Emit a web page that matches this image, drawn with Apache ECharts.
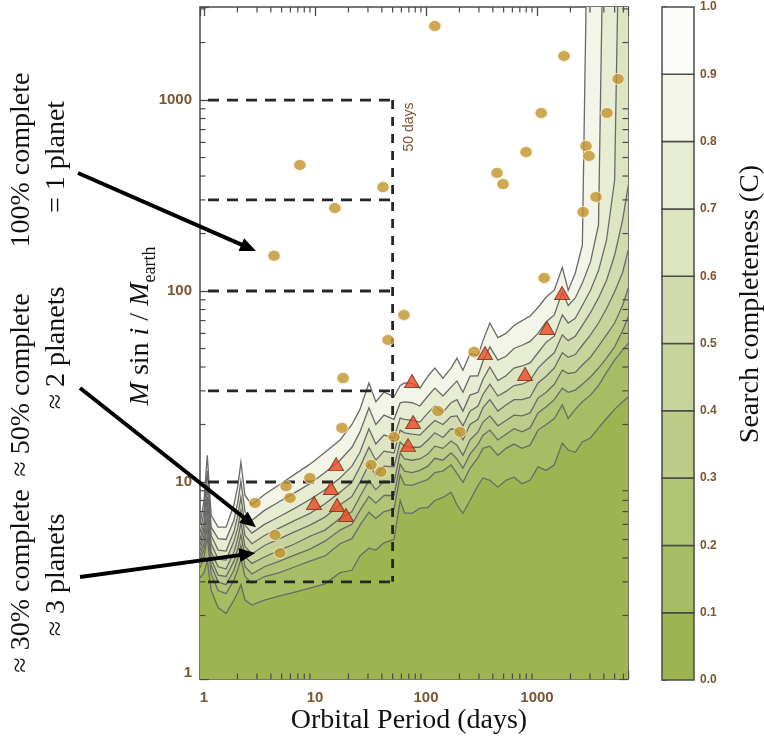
<!DOCTYPE html>
<html>
<head>
<meta charset="utf-8">
<script src="https://cdn.jsdelivr.net/npm/echarts@6/dist/echarts.min.js"></script>
<style>
  html, body { margin: 0; padding: 0; background: #ffffff; }
  #chart { width: 764px; height: 745px; }
</style>
</head>
<body>
<div id="chart"></div>
<script>
// ---- Axis extents (orbital period in days, M sin i in Earth masses) ----
const periodRange = [0.92, 6600];
const massRange = [0.93, 3070];
const minorTicks = [2, 3, 4, 5, 6, 7, 8, 9, 20, 30, 40, 50, 60, 70, 80, 90,
  200, 300, 400, 500, 600, 700, 800, 900, 2000, 3000, 4000, 5000, 6000, 7000, 8000, 9000];

// ---- Search-completeness contours: mass along a shared period grid ----
const periodGrid = [0.92, 1.0, 1.07, 1.16, 1.34, 1.58, 1.86, 2.02, 2.15, 2.34, 2.7, 3.5, 4.8, 6.6, 9,
  12.3, 16.8, 21.5, 25.4, 30.6, 35.3, 41.8, 51.5, 58.5, 64, 75, 88, 104, 120, 142, 168, 190, 215, 249,
  294, 326, 376, 444, 525, 620, 733, 866, 1020, 1210, 1430, 1690, 1910, 2210, 2560, 3030, 3580, 4230,
  5000, 5900, 7000];
const contour90 = [5.95, 8.0, 13.8, 6.7, 5.8, 5.8, 7.6, 9.6, 12.7, 8.5, 7.6, 8.6, 9.7, 11, 12.4, 14.3,
  16.6, 20, 24, 33, 26.3, 29.5, 28, 32, 33, 32.8, 31, 35.8, 39.5, 35, 39.5, 44.5, 38.5, 47, 46, 55, 68,
  57, 60, 66, 70, 74, 82, 93, 101, 133, 101, 124, 174, 1e5, 1e5, 1e5, 1e5, 1e5, 1e5];
const contour80 = [5.4, 7.0, 11.4, 5.8, 5.05, 5.0, 6.3, 7.9, 10.1, 7.0, 6.3, 7.1, 7.9, 8.8, 9.8, 11.2,
  13, 15.2, 18.3, 24.5, 20, 22.4, 21.3, 26, 26.3, 26, 25, 28.2, 31, 28.2, 31.4, 33.8, 29.5, 35.8, 36,
  43, 51, 43.5, 45.5, 50, 52, 54.5, 60, 69, 75, 99, 84, 92, 110, 142, 222, 1e5, 1e5, 1e5, 1e5];
const contour70 = [5.0, 6.2, 9.6, 5.25, 4.4, 4.35, 5.5, 6.7, 8.3, 5.95, 5.4, 6.0, 6.6, 7.3, 8.1, 9.1,
  10.5, 12.1, 14.3, 19, 15.8, 17.6, 17, 21.6, 21.3, 21, 20.6, 23, 25, 23.2, 26, 27, 23.5, 28.5, 29.5,
  34.5, 40, 34, 36, 39.5, 40.5, 42, 47.5, 54, 58, 75, 68, 72, 84, 101, 128, 185, 380, 1e5, 1e5];
const contour60 = [4.65, 5.75, 8.4, 4.75, 3.95, 3.9, 4.9, 5.8, 7.1, 5.25, 4.75, 5.25, 5.75, 6.3, 6.85,
  7.7, 8.85, 9.95, 12, 15.2, 13, 14.5, 14.2, 18.7, 18.1, 17.8, 17.6, 19.4, 21, 20, 22, 22.2, 19.7, 23.5,
  25, 28.8, 32.5, 28.2, 29.8, 32, 32.5, 34, 39.5, 43.5, 47.5, 59, 55, 58, 66, 77, 92, 114, 154, 235, 430];
const contour50 = [4.35, 5.3, 7.4, 4.3, 3.6, 3.5, 4.3, 5.1, 6.1, 4.6, 4.2, 4.65, 5.05, 5.5, 5.95, 6.55,
  7.6, 8.4, 9.95, 12.4, 10.9, 12.1, 12, 16.2, 15.4, 15.2, 15.2, 16.6, 18.1, 17.1, 19, 18.7, 16.6, 20,
  21.3, 24.5, 27, 23.5, 25.3, 27, 27, 27.8, 33, 35.8, 39.5, 47.5, 45, 46.5, 52, 59, 68, 81, 99, 125, 185];
const contour40 = [4.1, 4.8, 6.55, 3.95, 3.25, 3.2, 3.85, 4.5, 5.3, 4.05, 3.75, 4.05, 4.4, 4.75, 5.2,
  5.6, 6.45, 7.0, 8.4, 10.2, 9.1, 10.1, 9.95, 14.2, 13.2, 13, 13.2, 14, 15.4, 15, 16.4, 15.6, 13.8, 16.6,
  18.3, 20.6, 22.2, 19.7, 21, 22.4, 22.2, 23, 27.5, 29.5, 32.5, 38.5, 37, 37.5, 41, 45, 51.5, 59, 68, 84, 114];
const contour30 = [3.85, 4.45, 5.8, 3.65, 3.0, 2.9, 3.45, 4.0, 4.65, 3.6, 3.3, 3.6, 3.85, 4.15, 4.45,
  4.9, 5.6, 6.0, 7.1, 8.4, 7.75, 8.5, 8.5, 12.4, 11.4, 11.2, 11.5, 12.1, 13.3, 13, 14.2, 13.2, 11.8, 14,
  15.8, 17.6, 18.7, 16.6, 17.8, 19, 18.3, 19.2, 23, 24.8, 27, 31, 29.5, 30.3, 32.5, 35.5, 39.5, 44.5, 51, 62, 79];
const contour20 = [3.55, 4.05, 5.15, 3.3, 2.7, 2.6, 3.07, 3.5, 3.95, 3.2, 2.95, 3.2, 3.35, 3.6, 3.85,
  4.1, 4.75, 5.05, 5.95, 6.95, 6.45, 7.0, 7.2, 10.9, 9.7, 9.6, 9.95, 10.3, 11.2, 11.4, 12.3, 11.1, 9.95,
  11.8, 13.4, 15, 15.4, 13.8, 15, 15.8, 15, 15.6, 18.7, 20, 21.5, 25.3, 21.5, 24, 26.3, 28.5, 32, 37.5,
  43.5, 49, 55.4];
const contour10 = [3.15, 3.35, 3.9, 2.7, 2.2, 2.05, 2.41, 2.65, 2.9, 2.41, 2.27, 2.41, 2.53, 2.65, 2.78,
  2.93, 3.35, 3.45, 4.1, 4.5, 4.4, 4.8, 5.0, 8.0, 6.9, 6.85, 7.3, 7.35, 8.0, 8.3, 8.85, 7.6, 6.85, 8.0,
  9.6, 10.5, 10.2, 9.4, 10.2, 10.6, 9.8, 10.2, 12, 11.5, 12.3, 16, 14.7, 14.3, 16.2, 17, 19.2, 21.5, 24,
  26.3, 28.5];
const contourLevels = [0.9, 0.8, 0.7, 0.6, 0.5, 0.4, 0.3, 0.2, 0.1];
const contourMasses = [contour90, contour80, contour70, contour60, contour50, contour40, contour30, contour20, contour10];

// ---- Colour scale of search completeness C ----
const colorbarLevels = [0.0, 0.1, 0.2, 0.3, 0.4, 0.5, 0.6, 0.7, 0.8, 0.9, 1.0];
const colorbarFills = ['#9DB451', '#A7BC63', '#B1C375', '#BCCB87', '#C6D39A', '#D1DBAD',
  '#DCE4C0', '#E7EDD3', '#F2F5E7', '#FCFDFA'];

// ---- Planet detections ----
const circlePeriod = [120, 1750, 5370, 1090, 4270, 7.3, 41, 796, 2760, 2940, 436, 494, 15.1, 3400, 2600,
  4.27, 1160, 63.3, 45.5, 271, 17.9, 128, 17.5, 202, 51.5, 32, 39.3, 9.0, 5.48, 5.95, 2.88, 4.36, 4.84];
const circleMass = [2440, 1700, 1290, 855, 855, 457, 350, 534, 574, 509, 415, 363, 272, 311, 259,
  153, 117, 74.9, 55.4, 48, 35, 23.5, 19.2, 18.3, 17.2, 12.3, 11.3, 10.5, 9.5, 8.25, 7.77, 5.28, 4.25];
const trianglePeriod = [1680, 1230, 340, 780, 74.8, 76.4, 68.9, 15.5, 13.9, 9.8, 15.8, 19.0];
const triangleMass = [97.7, 64, 47.4, 36.8, 33.8, 20.6, 15.6, 12.4, 9.3, 7.77, 7.58, 6.72];

// ---- Period/mass bins of the 50-day box grid ----
const massBins = [3, 10, 30, 100, 300, 1000];
const periodCut = 50;

// ---- Annotation arrows: tip positions (period, mass) ----
const arrowTips = [[2.94, 162], [2.94, 5.8], [2.9, 4.25]];

const brown = '#7a5530';
const frameColor = '#4a4a4a';
const sans = '"Liberation Sans", Arial, Helvetica, sans-serif';
const serif = '"Liberation Serif", "Times New Roman", serif';

function decadeLabel(v) {
  const e = Math.log10(v);
  return Math.abs(e - Math.round(e)) < 1e-6 ? String(Math.round(v)) : '';
}

function seg(x1, y1, x2, y2) {
  return { type: 'line', shape: { x1, y1, x2, y2 }, style: { stroke: frameColor, lineWidth: 1.2 } };
}

const chart = echarts.init(document.getElementById('chart'), null, { renderer: 'canvas' });

const logAxisBase = {
  type: 'log',
  logBase: 10,
  gridIndex: 0,
  axisLine: { show: true, lineStyle: { color: frameColor, width: 1.5 } },
  axisTick: { show: true, inside: true, length: 9, lineStyle: { color: frameColor, width: 1.3 } },
  splitLine: { show: false },
  minorTick: { show: false },
  minorSplitLine: { show: false }
};

const option = {
  backgroundColor: '#ffffff',
  animation: false,
  grid: [
    { left: 200, top: 7, width: 428, height: 672, show: false, containLabel: false, outerBoundsMode: 'none' },
    { left: 662, top: 7, width: 32, height: 673, show: false, containLabel: false, outerBoundsMode: 'none' }
  ],
  xAxis: [
    Object.assign({}, logAxisBase, {
      position: 'bottom', min: periodRange[0], max: periodRange[1],
      axisLabel: { formatter: decadeLabel, color: brown, fontFamily: sans, fontSize: 15, fontWeight: 'bold', margin: 11 }
    }),
    Object.assign({}, logAxisBase, {
      position: 'top', min: periodRange[0], max: periodRange[1],
      axisLabel: { show: false }
    }),
    { type: 'value', gridIndex: 1, min: 0, max: 1, show: false }
  ],
  yAxis: [
    Object.assign({}, logAxisBase, {
      position: 'left', min: massRange[0], max: massRange[1],
      axisLabel: { formatter: decadeLabel, color: brown, fontFamily: sans, fontSize: 15, fontWeight: 'bold', margin: 8 }
    }),
    Object.assign({}, logAxisBase, {
      position: 'right', min: massRange[0], max: massRange[1],
      axisLabel: { show: false }
    }),
    {
      type: 'value', gridIndex: 1, min: 0, max: 1, interval: 0.1, position: 'right',
      axisLine: { show: false },
      axisTick: { show: true, inside: false, length: 5, lineStyle: { color: frameColor, width: 1.5 } },
      splitLine: { show: false },
      axisLabel: { formatter: v => v.toFixed(1), color: brown, fontFamily: sans, fontSize: 12, fontWeight: 'bold', margin: 6 }
    }
  ],
  series: [
    // filled completeness bands
    {
      type: 'custom', name: 'completeness', xAxisIndex: 0, yAxisIndex: 0, clip: true, z: 1,
      data: contourLevels.map(c => [1, 1, c]),
      renderItem(params, api) {
        const i = params.dataIndex;
        const masses = contourMasses[i];
        const pts = periodGrid.map((p, k) => api.coord([p, masses[k]]));
        const leftX = api.coord([0.8, 1])[0];
        const bottomY = api.coord([1, 0.5])[1];
        const last = pts[pts.length - 1];
        pts.unshift([leftX, pts[0][1]]);
        pts.push([last[0], bottomY], [leftX, bottomY]);
        const fill = colorbarFills[Math.round(contourLevels[i] * 10) - 1];
        return { type: 'polygon', z2: i, shape: { points: pts }, style: { fill: fill, stroke: null } };
      }
    },
    // contour lines
    {
      type: 'custom', name: 'contours', xAxisIndex: 0, yAxisIndex: 0, clip: true, z: 2,
      data: contourLevels.map(c => [1, 1, c]),
      renderItem(params, api) {
        const masses = contourMasses[params.dataIndex];
        const pts = periodGrid.map((p, k) => api.coord([p, masses[k]]));
        return { type: 'polyline', shape: { points: pts },
          style: { fill: null, stroke: '#6a6a6a', lineWidth: 1.3 } };
      }
    },
    // 50-day box grid
    {
      type: 'custom', name: 'bins', xAxisIndex: 0, yAxisIndex: 0, clip: true, z: 3,
      data: [[1, 1]],
      renderItem(params, api) {
        const dash = { stroke: '#262626', lineWidth: 2.8, lineDash: [11, 8], lineDashOffset: 11, fill: null };
        const children = massBins.map(m => {
          const a = api.coord([periodRange[0], m]);
          const b = api.coord([periodCut, m]);
          return { type: 'line', shape: { x1: a[0], y1: a[1], x2: b[0], y2: b[1] }, style: dash };
        });
        const top = api.coord([periodCut, massBins[massBins.length - 1]]);
        const bot = api.coord([periodCut, massBins[0]]);
        children.push({ type: 'line', shape: { x1: top[0], y1: top[1], x2: bot[0], y2: bot[1] },
          style: Object.assign({}, dash, { lineDash: [9, 8], lineDashOffset: 0 }) });
        return { type: 'group', children };
      }
    },
    // minor log ticks on all four sides
    {
      type: 'custom', name: 'minorTicks', xAxisIndex: 0, yAxisIndex: 0, clip: false, z: 6,
      data: [[1, 1]],
      renderItem(params, api) {
        const cs = params.coordSys;
        const x0 = cs.x, x1 = cs.x + cs.width, y0 = cs.y, y1 = cs.y + cs.height;
        const children = [];
        minorTicks.forEach(v => {
          if (v > periodRange[0] && v < periodRange[1]) {
            const px = api.coord([v, 1])[0];
            children.push(seg(px, y1, px, y1 - 5.5), seg(px, y0, px, y0 + 5.5));
          }
          if (v > massRange[0] && v < massRange[1]) {
            const py = api.coord([1, v])[1];
            children.push(seg(x0, py, x0 + 5.5, py), seg(x1, py, x1 - 5.5, py));
          }
        });
        return { type: 'group', children };
      }
    },
    // detected planets (circles)
    {
      type: 'scatter', name: 'planets', xAxisIndex: 0, yAxisIndex: 0, z: 5,
      symbol: 'circle', symbolSize: [12.5, 11],
      itemStyle: { color: '#C1922A', borderColor: 'rgba(255,248,225,0.9)', borderWidth: 1 },
      data: circlePeriod.map((p, i) => [p, circleMass[i]])
    },
    // detected planets (triangles)
    {
      type: 'scatter', name: 'planetsTriangles', xAxisIndex: 0, yAxisIndex: 0, z: 5,
      symbol: 'triangle', symbolSize: [15, 13],
      itemStyle: { color: '#E84A26', borderColor: '#7a2a12', borderWidth: 1 },
      data: trianglePeriod.map((p, i) => [p, triangleMass[i]])
    },
    // colour bar
    {
      type: 'custom', name: 'colorbar', xAxisIndex: 2, yAxisIndex: 2, z: 2,
      data: colorbarFills.map((c, i) => [0, colorbarLevels[i]]),
      renderItem(params, api) {
        const i = params.dataIndex;
        const p0 = api.coord([0, colorbarLevels[i]]);
        const p1 = api.coord([1, colorbarLevels[i + 1]]);
        return {
          type: 'rect',
          shape: { x: p0[0], y: p1[1], width: p1[0] - p0[0], height: p0[1] - p1[1] },
          style: { fill: colorbarFills[i], stroke: frameColor, lineWidth: 1.5 }
        };
      }
    }
  ]
};

chart.setOption(option);

// Text annotations, axis titles and arrows
const textStyle = (text, size, font, fill) => ({
  text, font: size + 'px ' + font, fill: fill || '#111', align: 'center', verticalAlign: 'middle'
});
const graphics = [
  { type: 'text', x: 22, y: 160, rotation: Math.PI / 2, style: textStyle('100% complete', 28, serif) },
  { type: 'text', x: 57, y: 157, rotation: Math.PI / 2, style: textStyle('= 1 planet', 28, serif) },
  { type: 'text', x: 22, y: 385, rotation: Math.PI / 2, style: textStyle('\u2248 50% complete', 28, serif) },
  { type: 'text', x: 57, y: 348, rotation: Math.PI / 2, style: textStyle('\u2248 2 planets', 28, serif) },
  { type: 'text', x: 22, y: 581, rotation: Math.PI / 2, style: textStyle('\u2248 30% complete', 28, serif) },
  { type: 'text', x: 57, y: 575, rotation: Math.PI / 2, style: textStyle('\u2248 3 planets', 28, serif) },
  { type: 'text', x: 409, y: 721, style: textStyle('Orbital Period (days)', 28, serif) },
  { type: 'text', x: 751, y: 304, rotation: Math.PI / 2, style: textStyle('Search completeness (C)', 28, serif) },
  { type: 'text', x: 409, y: 127, rotation: Math.PI / 2, style: textStyle('50 days', 14, sans, brown) },
  {
    type: 'text', x: 141, y: 326, rotation: Math.PI / 2,
    style: {
      text: '{it|M} sin {it|i} / {it|M}{sub|earth}',
      font: '28px ' + serif, fill: '#111', align: 'center', verticalAlign: 'middle', lineHeight: 36,
      rich: {
        it: { fontStyle: 'italic', fontFamily: serif, fontSize: 28, lineHeight: 36, verticalAlign: 'middle' },
        sub: { fontFamily: serif, fontSize: 18, lineHeight: 18, verticalAlign: 'bottom' }
      }
    }
  }
];

const arrowTails = [[78, 173], [80, 388], [80, 577]];
arrowTips.forEach((tipData, i) => {
  const tip = chart.convertToPixel({ xAxisIndex: 0, yAxisIndex: 0 }, tipData);
  const tail = arrowTails[i];
  const dx = tip[0] - tail[0], dy = tip[1] - tail[1];
  const len = Math.hypot(dx, dy);
  const ux = dx / len, uy = dy / len;
  const headLen = 16, headHalf = 7;
  const bx = tip[0] - ux * headLen, by = tip[1] - uy * headLen;
  graphics.push({
    type: 'line', z: 100,
    shape: { x1: tail[0], y1: tail[1], x2: bx + ux * 2, y2: by + uy * 2 },
    style: { stroke: '#000', lineWidth: 4 }
  });
  graphics.push({
    type: 'polygon', z: 100,
    shape: { points: [[tip[0], tip[1]], [bx - uy * headHalf, by + ux * headHalf], [bx + uy * headHalf, by - ux * headHalf]] },
    style: { fill: '#000' }
  });
});

chart.setOption({ graphic: graphics });
</script>
</body>
</html>
